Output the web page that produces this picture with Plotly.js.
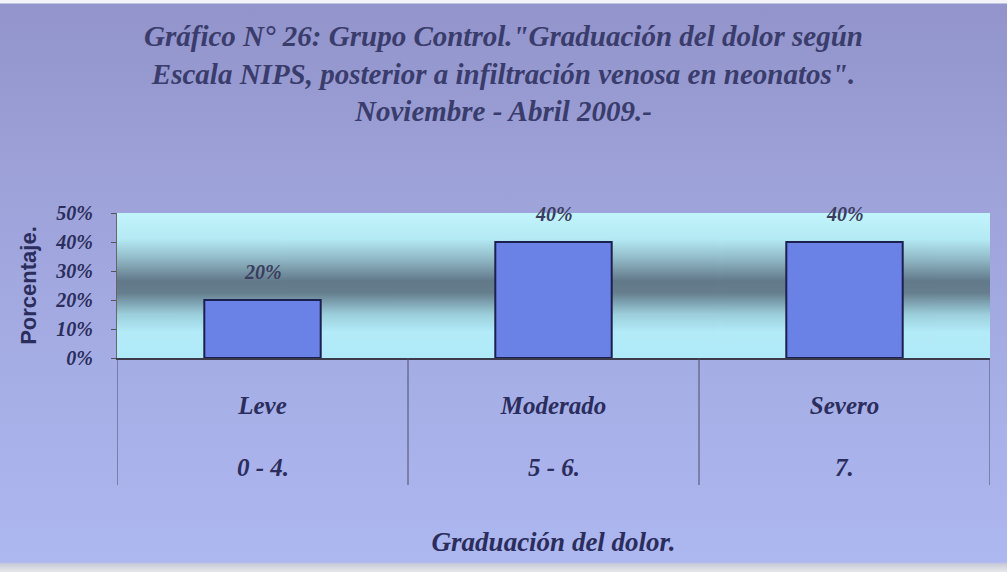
<!DOCTYPE html>
<html>
<head>
<meta charset="utf-8">
<script src="https://cdn.plot.ly/plotly-3.0.1.min.js"></script>
<style>
  html, body { margin: 0; padding: 0; background: #ffffff; }
  #chart {
    width: 1007px; height: 572px;
    background: linear-gradient(to bottom, #f4f4f8 0px, #f4f4f8 3px, #9294cb 4px, #9ea3da 200px, #a6aee6 380px, #adb7f0 562px, #c8ccd8 564px, #e8e8ec 572px);
  }
</style>
</head>
<body>
<div id="chart"></div>
<script>
// ---- data ----
const categories = ["Leve", "Moderado", "Severo"];
const ranges = ["0 - 4.", "5 - 6.", "7."];
const percentages = [20, 40, 40];
const yTickValues = [0, 10, 20, 30, 40, 50];
const yTickLabels = ["0%", "10%", "20%", "30%", "40%", "50%"];

const titleText = 'Gráfico N° 26: Grupo Control."Graduación del dolor según<br>Escala NIPS, posterior a infiltración venosa en neonatos".<br>Noviembre - Abril 2009.-';
const xTitle = 'Graduación del dolor.';
const yTitle = 'Porcentaje.';

// ---- plot-area gradient background ----
function gradientImage() {
  const c = document.createElement('canvas');
  c.width = 8; c.height = 290;
  const g = c.getContext('2d');
  const grd = g.createLinearGradient(0, 0, 0, c.height);
  grd.addColorStop(0.0, '#c2f4fc');
  grd.addColorStop(0.18, '#b4eaf4');
  grd.addColorStop(0.32, '#90b8c6');
  grd.addColorStop(0.47, '#62798a');
  grd.addColorStop(0.55, '#667e8e');
  grd.addColorStop(0.70, '#9ccfdc');
  grd.addColorStop(0.82, '#b3ebf8');
  grd.addColorStop(1.0, '#b0eaf8');
  g.fillStyle = grd;
  g.fillRect(0, 0, c.width, c.height);
  return c.toDataURL('image/png');
}

const serifBI = (size, color) => ({family: '"Liberation Serif", "Times New Roman", serif', size: size, weight: 'bold', style: 'italic', color: color});
const ink = '#2b2d5c';

const bars = {
  type: 'bar',
  x: categories,
  y: percentages,
  width: 0.4,
  marker: {color: '#6a82e6', line: {color: '#1c2050', width: 2}},
  hoverinfo: 'skip'
};

const annotations = [];
percentages.forEach((v, i) => {
  annotations.push({
    x: categories[i], y: v, xref: 'x', yref: 'y',
    text: v + '%', showarrow: false, yshift: 28,
    font: serifBI(20, '#3a3d5e')
  });
});
ranges.forEach((r, i) => {
  annotations.push({
    x: categories[i], y: -0.752, xref: 'x', yref: 'paper',
    text: r, showarrow: false, yanchor: 'middle',
    font: serifBI(25, ink)
  });
});

const shapes = [];
for (let i = 0; i <= categories.length; i++) {
  shapes.push({
    type: 'line', xref: 'x', yref: 'paper',
    x0: i - 0.5, x1: i - 0.5, y0: 0, y1: -0.876,
    line: {color: '#4a4e66', width: 1}
  });
}

const layout = {
  width: 1007, height: 572,
  margin: {l: 117, r: 17, t: 213, b: 214},
  paper_bgcolor: 'rgba(0,0,0,0)',
  plot_bgcolor: 'rgba(0,0,0,0)',
  showlegend: false,
  title: {
    text: titleText,
    font: serifBI(29, '#3a3c6c'),
    x: 0.5, xref: 'container', xanchor: 'center',
    y: 1 - 46 / 572, yref: 'container', yanchor: 'top'
  },
  xaxis: {
    type: 'category',
    range: [-0.5, categories.length - 0.5],
    showline: true, linecolor: '#3a3a4a', linewidth: 1.5,
    showgrid: false, zeroline: false, ticks: '',
    tickfont: serifBI(25, ink),
    ticklabelstandoff: 24,
    title: {text: xTitle, font: serifBI(27, ink), standoff: 114}
  },
  yaxis: {
    range: [0, 50],
    tickvals: yTickValues,
    ticktext: yTickLabels,
    ticks: 'outside', ticklen: 5, tickcolor: '#555',
    showline: true, linecolor: '#666', linewidth: 1,
    showgrid: false, zeroline: false,
    tickfont: serifBI(20, ink),
    ticklabelstandoff: 14,
    title: {text: yTitle, font: {family: '"Liberation Sans", Arial, sans-serif', size: 22, weight: 'bold', color: ink}, standoff: 12}
  },
  images: [{
    source: gradientImage(),
    xref: 'paper', yref: 'paper', x: 0, y: 1, sizex: 1, sizey: 1,
    xanchor: 'left', yanchor: 'top', sizing: 'stretch', layer: 'below'
  }],
  annotations: annotations,
  shapes: shapes
};

Plotly.newPlot('chart', [bars], layout, {displayModeBar: false, staticPlot: true});
</script>
</body>
</html>
